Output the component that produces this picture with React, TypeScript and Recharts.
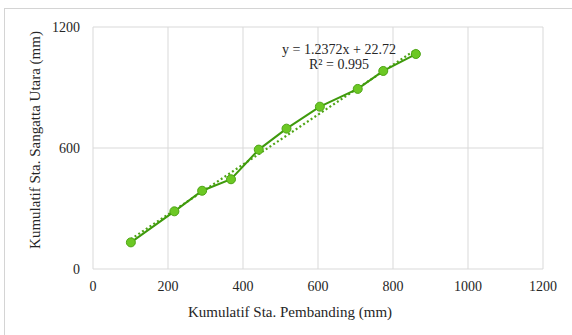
import { ComposedChart, Line, XAxis, YAxis, CartesianGrid, Label, Text } from 'recharts';

const pembanding = [101, 217, 291, 368, 442, 516, 605, 706, 774, 861];
const sangattaUtara = [132, 286, 388, 445, 592, 696, 805, 893, 982, 1066];

// end points of the Excel linear trendline (y = 1.2372x + 22.72)
const trendX = [101, 861];
const trendY = [148, 1088];

const xTicks = [0, 200, 400, 600, 800, 1000, 1200];
const yTicks = [0, 600, 1200];

const equation = 'y = 1.2372x + 22.72';
const rSquared = 'R² = 0.995';

const data = pembanding.map((x, i) => ({ x, y: sangattaUtara[i] }));
const trend = trendX.map((x, i) => ({ x, t: trendY[i] }));

const font = '"Liberation Serif", "Times New Roman", serif';
const textColor = '#262626';

const YTitle = (props: any) => {
  const { viewBox } = props;
  return (
    <Text
      x={35}
      y={viewBox.y + viewBox.height / 2 - 8}
      angle={-90}
      textAnchor="middle"
      verticalAnchor="middle"
      fontSize={15}
      fontFamily={font}
      fill={textColor}
    >
      Kumulatif Sta. Sangatta Utara (mm)
    </Text>
  );
};

const XTitle = (props: any) => {
  const { viewBox } = props;
  return (
    <Text
      x={viewBox.x + viewBox.width / 2 - 28}
      y={312}
      textAnchor="middle"
      verticalAnchor="middle"
      fontSize={15}
      fontFamily={font}
      fill={textColor}
    >
      Kumulatif Sta. Pembanding (mm)
    </Text>
  );
};

const App = () => {
  return (
    <div style={{ position: 'fixed', left: 0, top: 0, width: 572, height: 335, overflow: 'hidden', background: '#fff' }}>
      <div style={{ position: 'absolute', left: 4, top: 8, width: 620, height: 400, border: '1px solid #d4d4d4' }} />
      <div style={{ position: 'absolute', left: 0, top: 0 }}>
        <ComposedChart width={572} height={335} margin={{ top: 27, right: 29, left: 53, bottom: 36 }}>
          <CartesianGrid stroke="#d9d9d9" strokeWidth={1} />
          <XAxis
            type="number"
            dataKey="x"
            domain={[0, 1200]}
            ticks={xTicks}
            axisLine={false}
            tickLine={false}
            tickMargin={6}
            height={30}
            allowDataOverflow
            tick={{ fontSize: 14, fontFamily: font, fill: textColor }}
          >
            <Label content={<XTitle />} />
          </XAxis>
          <YAxis
            type="number"
            domain={[0, 1200]}
            ticks={yTicks}
            axisLine={false}
            tickLine={false}
            tickMargin={7}
            width={40}
            tick={{ fontSize: 14, fontFamily: font, fill: textColor }}
          >
            <Label content={<YTitle />} />
          </YAxis>
          <Line
            data={trend}
            dataKey="t"
            stroke="#4ea515"
            strokeWidth={2.2}
            strokeDasharray="2 2.5"
            dot={false}
            activeDot={false}
            isAnimationActive={false}
          />
          <Line
            data={data}
            dataKey="y"
            stroke="#3f9a0c"
            strokeWidth={2}
            dot={{ r: 4.5, fill: '#6cc824', stroke: '#4ea515', strokeWidth: 1 }}
            activeDot={false}
            isAnimationActive={false}
          />
        </ComposedChart>
      </div>
      <div
        style={{
          position: 'absolute',
          left: 239,
          top: 42,
          width: 200,
          textAlign: 'center',
          fontFamily: font,
          fontSize: 14,
          lineHeight: '15px',
          color: textColor,
        }}
      >
        <div>{equation}</div>
        <div>{rSquared}</div>
      </div>
    </div>
  );
};

export default App;
